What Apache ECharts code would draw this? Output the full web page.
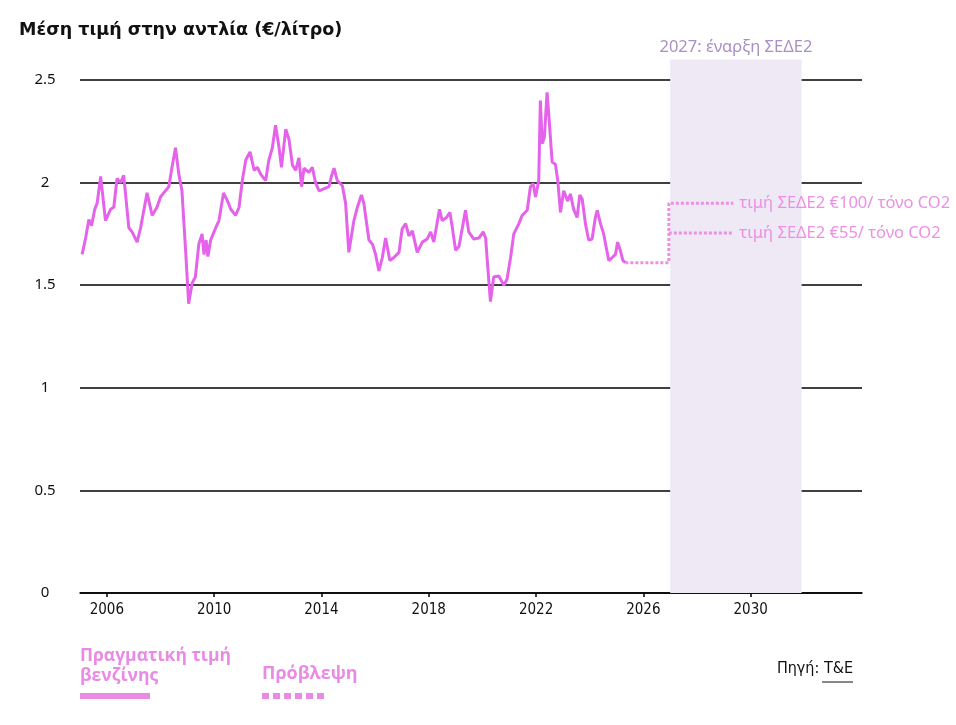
<!DOCTYPE html>
<html><head><meta charset="utf-8">
<script src="https://cdn.jsdelivr.net/npm/echarts@6/dist/echarts.min.js"></script>
<style>html,body{margin:0;padding:0;background:#fff}#c{width:956px;height:725px}</style>
</head><body><div id="c"></div>
<script>
// Actual pump price of petrol (€/litre), decimal years
const actualDates = [2005.08,2005.21,2005.33,2005.43,2005.55,2005.64,2005.77,2005.95,2006.14,2006.26,2006.38,2006.51,2006.63,2006.82,2006.94,2007.13,2007.26,2007.50,2007.69,2007.87,2008.00,2008.12,2008.31,2008.43,2008.56,2008.68,2008.80,2008.93,2009.03,2009.05,2009.18,2009.30,2009.43,2009.55,2009.62,2009.70,2009.77,2009.87,2010.06,2010.18,2010.35,2010.50,2010.62,2010.80,2010.93,2011.05,2011.18,2011.34,2011.49,2011.61,2011.74,2011.92,2012.04,2012.17,2012.29,2012.42,2012.51,2012.67,2012.79,2012.92,2013.04,2013.16,2013.26,2013.35,2013.53,2013.66,2013.78,2013.91,2014.09,2014.28,2014.37,2014.47,2014.59,2014.78,2014.90,2015.02,2015.21,2015.34,2015.49,2015.58,2015.77,2015.90,2016.02,2016.14,2016.27,2016.39,2016.55,2016.70,2016.89,2017.01,2017.14,2017.26,2017.39,2017.57,2017.76,2017.94,2018.07,2018.19,2018.40,2018.50,2018.66,2018.79,2018.88,2019.00,2019.13,2019.37,2019.49,2019.68,2019.87,2020.03,2020.12,2020.24,2020.30,2020.42,2020.61,2020.80,2020.92,2021.05,2021.17,2021.36,2021.48,2021.67,2021.79,2021.89,2021.98,2022.10,2022.16,2022.23,2022.31,2022.41,2022.47,2022.60,2022.72,2022.81,2022.91,2023.03,2023.18,2023.28,2023.40,2023.53,2023.63,2023.72,2023.84,2023.96,2024.09,2024.21,2024.28,2024.40,2024.52,2024.71,2024.84,2024.96,2025.04,2025.14,2025.24,2025.33];
const actualPrices = [1.65,1.73,1.82,1.79,1.87,1.90,2.03,1.815,1.87,1.88,2.02,2.00,2.035,1.78,1.76,1.71,1.78,1.95,1.84,1.88,1.93,1.95,1.98,2.075,2.17,2.045,1.96,1.685,1.456,1.41,1.51,1.54,1.70,1.75,1.65,1.72,1.64,1.72,1.78,1.815,1.95,1.91,1.87,1.84,1.88,2.01,2.11,2.15,2.06,2.075,2.04,2.01,2.11,2.17,2.28,2.17,2.075,2.26,2.21,2.085,2.06,2.12,1.98,2.07,2.05,2.075,2.00,1.96,1.97,1.98,2.03,2.07,2.01,1.985,1.90,1.66,1.815,1.88,1.94,1.90,1.72,1.70,1.65,1.57,1.635,1.73,1.62,1.635,1.66,1.775,1.80,1.74,1.765,1.66,1.71,1.725,1.76,1.71,1.87,1.815,1.83,1.855,1.78,1.67,1.69,1.865,1.76,1.725,1.73,1.76,1.73,1.52,1.42,1.54,1.545,1.50,1.53,1.635,1.75,1.80,1.84,1.865,1.98,1.995,1.93,2.01,2.40,2.19,2.22,2.44,2.34,2.10,2.09,2.01,1.855,1.96,1.91,1.945,1.87,1.83,1.94,1.92,1.80,1.72,1.725,1.83,1.865,1.80,1.75,1.62,1.635,1.65,1.71,1.67,1.62,1.61];
// Forecast paths
const forecastHighDates = [2025.33,2026.95,2026.95,2029.35];
const forecastHighPrices = [1.61,1.61,1.90,1.90];
const forecastLowDates = [2026.95,2029.35];
const forecastLowPrices = [1.755,1.755];
const xTickYears = [2006,2010,2014,2018,2022,2026,2030];
const ets2Start = 2027, ets2End = 2031.9;
const labelHigh = 'τιμή ΣΕΔΕ2 €100/ τόνο CO2';
const labelLow = 'τιμή ΣΕΔΕ2 €55/ τόνο CO2';

const pink = '#e463ea';
const lightPink = '#ee8fe3';
const zip = (a,b)=>a.map((v,i)=>[v,b[i]]);

const chart = echarts.init(document.getElementById('c'));
chart.setOption({
  animation:false,
  backgroundColor:'#fff',
  title:{text:'Μέση τιμή στην αντλία (€/λίτρο)',left:14,top:16,
    textStyle:{fontFamily:'DejaVu Sans',fontWeight:'bold',fontSize:17.5,color:'#111'}},
  grid:{left:80,right:94,top:59.5,bottom:132},
  xAxis:{type:'value',min:2005,max:2034.15,
    axisLine:{lineStyle:{color:'#000',width:1.5}},
    axisTick:{show:true,customValues:xTickYears,length:4,lineStyle:{color:'#000',width:1.5}},
    axisLabel:{customValues:xTickYears,formatter:v=>String(v),margin:10,fontFamily:'DejaVu Sans Condensed, Noto Sans',fontSize:15,color:'#111'},
    splitLine:{show:false}},
  yAxis:{type:'value',min:0,max:2.6,interval:0.5,
    axisLine:{show:false},axisTick:{show:false},
    axisLabel:{showMaxLabel:false,align:'center',margin:35,fontFamily:'Noto Sans',fontSize:15,color:'#111'},
    splitLine:{showMaxLine:false,lineStyle:{color:'#000',width:1.6}}},
  series:[
    {type:'line',name:'bg',data:[],silent:true,
      markArea:{silent:true,itemStyle:{color:'#efe9f6'},
        label:{show:true,position:'top',distance:4,color:'#a98fc6',fontFamily:'Noto Sans',fontSize:16.5,formatter:'2027: έναρξη ΣΕΔΕ2'},
        data:[[{xAxis:ets2Start},{xAxis:ets2End}]]}},
    {type:'line',name:'actual',data:zip(actualDates,actualPrices),showSymbol:false,silent:true,
      lineStyle:{color:pink,width:3},z:5},
    {type:'line',name:'fh',data:zip(forecastHighDates,forecastHighPrices),showSymbol:false,silent:true,
      lineStyle:{color:lightPink,width:3,type:[3,2]},
      endLabel:{show:true,formatter:labelHigh,color:lightPink,fontFamily:'Noto Sans',fontSize:16.5,distance:6}},
    {type:'line',name:'fl',data:zip(forecastLowDates,forecastLowPrices),showSymbol:false,silent:true,
      lineStyle:{color:lightPink,width:3,type:[3,2]},
      endLabel:{show:true,formatter:labelLow,color:lightPink,fontFamily:'Noto Sans',fontSize:16.5,distance:6}}
  ],
  graphic:[
    {type:'text',left:80,top:646,style:{text:'Πραγματική τιμή\nβενζίνης',fill:'#e98ae4',font:'bold 17.5px "Open Sans"',lineHeight:20}},
    {type:'rect',shape:{x:80,y:693,width:70,height:6},style:{fill:'#e98ae4'}},
    {type:'text',left:262,top:665,style:{text:'Πρόβλεψη',fill:'#e98ae4',font:'bold 18px "Open Sans"'}},
    {type:'line',shape:{x1:262,y1:696,x2:328,y2:696},style:{stroke:'#e98ae4',lineWidth:6,lineDash:[7,4]}},
    {type:'text',right:103,top:661,style:{text:'Πηγή: T&E',fill:'#111',font:'16px "DejaVu Sans Condensed", "Noto Sans"'}},
    {type:'line',shape:{x1:822,y1:682,x2:853,y2:682},style:{stroke:'#111',lineWidth:1}}
  ]
});
</script></body></html>
